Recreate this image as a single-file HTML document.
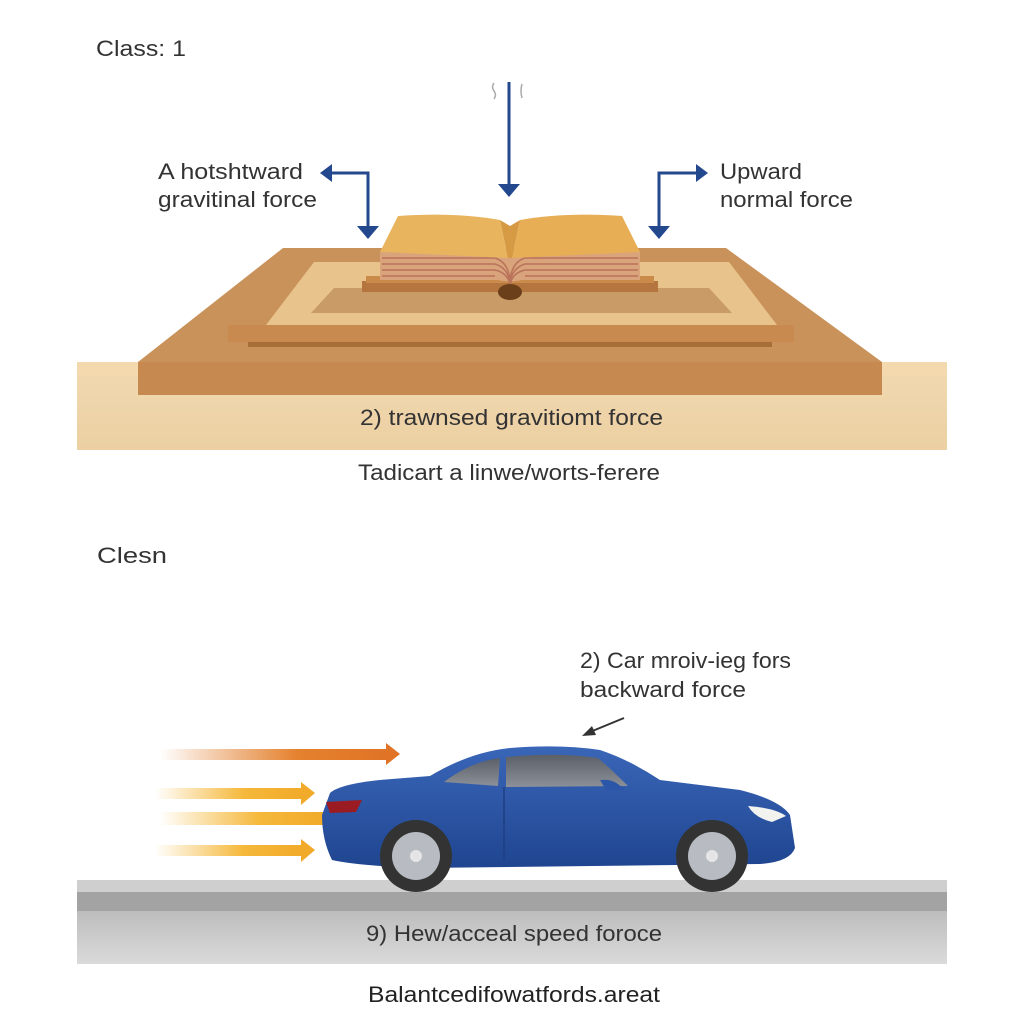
<!DOCTYPE html>
<html><head><meta charset="utf-8"><style>
html,body{margin:0;padding:0;background:#fff}
svg{display:block}
text{font-family:"Liberation Sans",sans-serif;fill:#333}
</style></head><body>
<svg width="1024" height="1024" viewBox="0 0 1024 1024" xmlns="http://www.w3.org/2000/svg">
<defs>
<linearGradient id="gnd" x1="0" y1="0" x2="0" y2="1"><stop offset="0" stop-color="#f1d9b0"/><stop offset="1" stop-color="#ecd0a3"/></linearGradient>
<linearGradient id="road" x1="0" y1="0" x2="0" y2="1"><stop offset="0" stop-color="#bdbdbd"/><stop offset="1" stop-color="#dadada"/></linearGradient>
<linearGradient id="o1" x1="0" x2="1"><stop offset="0" stop-color="#e07a2a" stop-opacity="0"/><stop offset="0.6" stop-color="#e5822e"/><stop offset="1" stop-color="#e07326"/></linearGradient>
<linearGradient id="y1" x1="0" x2="1"><stop offset="0" stop-color="#f5b83a" stop-opacity="0"/><stop offset="0.6" stop-color="#f5b83a"/><stop offset="1" stop-color="#f2aa2a"/></linearGradient>
<linearGradient id="car" x1="0" y1="0" x2="0" y2="1"><stop offset="0" stop-color="#3a66b8"/><stop offset="1" stop-color="#1f4590"/></linearGradient>
<linearGradient id="win" x1="0" y1="0" x2="0" y2="1"><stop offset="0" stop-color="#5a5f68"/><stop offset="1" stop-color="#8c9098"/></linearGradient>
</defs>

<text x="96" y="56" font-size="22" textLength="90" lengthAdjust="spacingAndGlyphs">Class: 1</text>

<g stroke="#24488e" stroke-width="3" fill="none">
<line x1="509" y1="82" x2="509" y2="188"/>
<polyline points="328,173 368,173 368,230"/>
<polyline points="659,230 659,173 700,173"/>
</g>
<g fill="#24488e">
<polygon points="498,184 520,184 509,197"/>
<polygon points="357,226 379,226 368,239"/>
<polygon points="648,226 670,226 659,239"/>
<polygon points="320,173 332,164 332,182"/>
<polygon points="708,173 696,164 696,182"/>
</g>
<path d="M494,83 q-3,4 0,8 q3,4 0,8 M522,84 q-2,7 0,14" stroke="#aaa" stroke-width="1.5" fill="none"/>

<text x="158" y="179" font-size="22" textLength="145" lengthAdjust="spacingAndGlyphs">A hotshtward</text>
<text x="158" y="207" font-size="22" textLength="159" lengthAdjust="spacingAndGlyphs">gravitinal force</text>
<text x="720" y="179" font-size="22" textLength="82" lengthAdjust="spacingAndGlyphs">Upward</text>
<text x="720" y="207" font-size="22" textLength="133" lengthAdjust="spacingAndGlyphs">normal force</text>

<rect x="77" y="362" width="870" height="88" fill="url(#gnd)"/>
<rect x="77" y="362" width="870" height="14" fill="#f4d9ae"/>
<polygon points="283,248 726,248 882,362 138,362" fill="#c9925a"/>
<rect x="138" y="362" width="744" height="33" fill="#c68a50"/>
<polygon points="314,262 729,262 777,325 266,325" fill="#e8c48c"/>
<polygon points="334,288 709,288 732,313 311,313" fill="#c99b66"/>
<rect x="248" y="340" width="524" height="7" fill="#a86e3a"/>
<rect x="228" y="325" width="566" height="17" fill="#c98a50"/>
<rect x="362" y="281" width="296" height="11" fill="#b4763e"/>
<rect x="366" y="276" width="288" height="7" fill="#c98a4a"/>
<path d="M380,252 L640,252 L640,280 L522,280 Q510,283 498,280 L380,280 Z" fill="#d9a37c"/>
<g stroke="#b9735a" stroke-width="1.5" fill="none">
<path d="M382,258 L495,258 Q508,262 510,280 Q512,262 525,258 L638,258"/>
<path d="M382,264 L495,264 Q508,268 510,283 Q512,268 525,264 L638,264"/>
<path d="M382,270 L495,270 Q508,273 510,285 Q512,273 525,270 L638,270"/>
<path d="M382,276 L495,276"/><path d="M525,276 L638,276"/>
</g>
<ellipse cx="510" cy="292" rx="12" ry="8" fill="#6b3f1a"/>
<path d="M380,252 L398,216 Q455,212 500,220 L508,258 Z" fill="#e9b45e"/>
<path d="M640,252 L622,216 Q565,212 520,220 L512,258 Z" fill="#e7ae55"/>
<path d="M500,220 L510,226 L520,220 L512,258 L508,258 Z" fill="#d69a45"/>

<text x="360" y="425" font-size="22" textLength="303" lengthAdjust="spacingAndGlyphs">2)  trawnsed gravitiomt force</text>
<text x="358" y="480" font-size="22" textLength="302" lengthAdjust="spacingAndGlyphs">Tadicart a linwe/worts-ferere</text>

<text x="97" y="563" font-size="22" textLength="70" lengthAdjust="spacingAndGlyphs">Clesn</text>
<text x="580" y="668" font-size="22" textLength="211" lengthAdjust="spacingAndGlyphs">2) Car mroiv-ieg fors</text>
<text x="580" y="697" font-size="22" textLength="166" lengthAdjust="spacingAndGlyphs">backward force</text>
<line x1="624" y1="718" x2="590" y2="732" stroke="#333" stroke-width="2"/>
<polygon points="582,736 592,726 596,735" fill="#333"/>

<rect x="77" y="880" width="870" height="12" fill="#cfcfcf"/>
<rect x="77" y="892" width="870" height="19" fill="#a3a3a3"/>
<rect x="77" y="911" width="870" height="53" fill="url(#road)"/>
<text x="366" y="941" font-size="22" textLength="296" lengthAdjust="spacingAndGlyphs">9) Hew/acceal speed foroce</text>
<text x="368" y="1002" font-size="22" textLength="292" lengthAdjust="spacingAndGlyphs" style="fill:#222">Balantcedifowatfords.areat</text>

<rect x="160" y="749" width="228" height="11" fill="url(#o1)"/>
<polygon points="386,743 400,754 386,765" fill="#e07326"/>
<rect x="155" y="788" width="148" height="11" fill="url(#y1)"/>
<polygon points="301,782 315,793 301,805" fill="#f2aa2a"/>
<rect x="160" y="812" width="166" height="13" fill="url(#y1)"/>
<rect x="155" y="845" width="148" height="11" fill="url(#y1)"/>
<polygon points="301,839 315,850 301,862" fill="#f2aa2a"/>

<path d="M330,793 Q340,784 380,780 L430,776 Q470,752 510,748 Q560,744 600,750 Q630,760 660,780 L740,790 Q780,800 790,815 L795,848 Q790,862 760,864 L420,868 Q360,866 332,860 Q322,840 322,815 Z" fill="url(#car)"/>
<path d="M444,782 Q470,762 500,758 L498,786 Z" fill="url(#win)"/>
<path d="M506,757 Q560,752 598,758 Q612,770 628,786 L506,787 Z" fill="url(#win)"/>
<path d="M600,780 Q615,778 624,790 L606,790 Z" fill="#2c57a8"/>
<path d="M326,802 L362,800 L356,812 L330,813 Z" fill="#9a1b22"/>
<path d="M748,806 Q775,808 786,816 L772,822 Q755,818 748,806 Z" fill="#f2f2ee"/>
<line x1="504" y1="787" x2="504" y2="860" stroke="#1d3f85" stroke-width="1.5"/>
<circle cx="416" cy="856" r="36" fill="#333"/>
<circle cx="416" cy="856" r="24" fill="#b8bcc2"/>
<circle cx="416" cy="856" r="6" fill="#e5e5e5"/>
<circle cx="712" cy="856" r="36" fill="#333"/>
<circle cx="712" cy="856" r="24" fill="#b8bcc2"/>
<circle cx="712" cy="856" r="6" fill="#e5e5e5"/>
</svg>
</body></html>
